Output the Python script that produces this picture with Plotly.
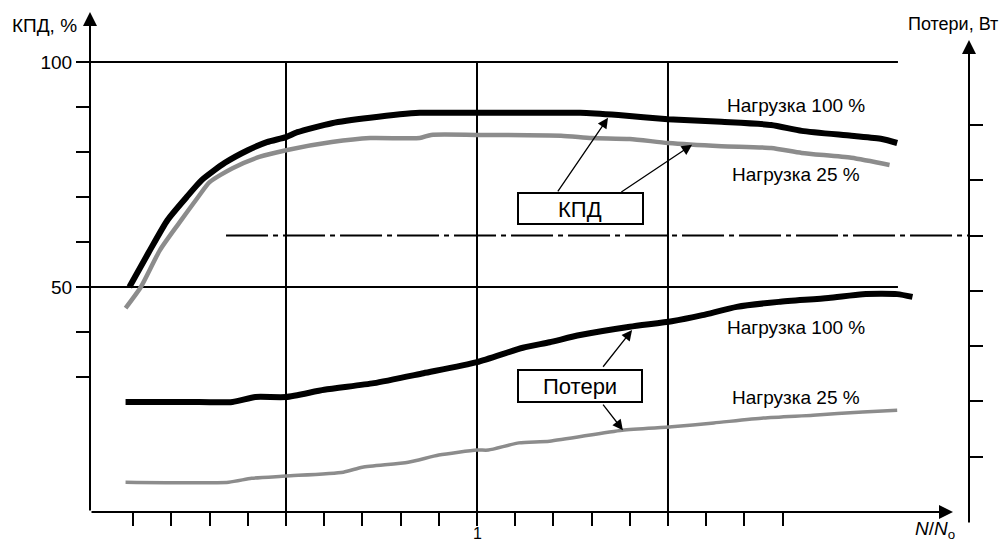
import plotly.graph_objects as go

# ---------------- data ----------------
# x: N/N0 ; efficiency in % (left axis) ; losses in arbitrary W units (right axis)
x_eff_100 = [0.09, 0.14, 0.19, 0.24, 0.28, 0.34, 0.40, 0.45, 0.50, 0.53, 0.62, 0.72,
             0.85, 1.00, 1.27, 1.37, 1.50, 1.64, 1.77, 1.85, 1.98, 2.06, 2.10]
eff_100 = [50.0, 57.6, 64.9, 70.0, 73.8, 77.6, 80.4, 82.2, 83.3, 84.4, 86.4, 87.6,
           88.7, 88.7, 88.7, 88.2, 87.3, 86.7, 86.0, 84.7, 83.6, 82.9, 82.0]

x_eff_25 = [0.08, 0.12, 0.17, 0.22, 0.27, 0.30, 0.36, 0.43, 0.50, 0.62, 0.72, 0.85,
            0.88, 1.00, 1.22, 1.30, 1.40, 1.50, 1.64, 1.77, 1.85, 1.98, 2.08]
eff_25 = [45.3, 50.0, 58.2, 64.2, 70.0, 73.3, 76.4, 78.9, 80.4, 82.2, 83.1, 83.1,
          83.8, 83.8, 83.6, 83.1, 82.9, 82.0, 81.3, 80.9, 79.8, 78.7, 77.1]

x_loss_100 = [0.08, 0.24, 0.36, 0.42, 0.50, 0.60, 0.73, 0.86, 1.00, 1.12, 1.19, 1.27,
              1.40, 1.51, 1.59, 1.68, 1.79, 1.92, 2.01, 2.10, 2.14]
loss_100 = [1.99, 1.99, 1.99, 2.08, 2.08, 2.21, 2.33, 2.51, 2.71, 2.97, 3.07, 3.20,
            3.35, 3.45, 3.56, 3.71, 3.80, 3.87, 3.94, 3.94, 3.89]

x_loss_25 = [0.08, 0.35, 0.41, 0.50, 0.65, 0.70, 0.82, 0.90, 1.00, 1.03, 1.11, 1.19,
             1.38, 1.51, 1.62, 1.75, 1.88, 2.01, 2.10]
loss_25 = [0.54, 0.54, 0.61, 0.65, 0.72, 0.81, 0.90, 1.03, 1.12, 1.12, 1.25, 1.28,
           1.48, 1.54, 1.61, 1.70, 1.75, 1.81, 1.84]

x_ticks = [round(0.1 * i, 1) for i in range(1, 19)]
x_labelled = 1.0
y_ticks = [30, 40, 50, 60, 70, 80, 90, 100]
y_ticklabels = ["50" if v == 50 else ("100" if v == 100 else "") for v in y_ticks]
y2_ticks = [1, 2, 3, 4, 5, 6, 7]
grid_x = [0.5, 1.0, 1.5]
grid_y = [50, 100]
ref_loss_level = 5

label_100 = "Нагрузка 100 %"
label_25 = "Нагрузка 25 %"

# ---------------- layout geometry ----------------
# the page body has an 8px margin, so the figure is drawn 8px in from the corner
OFF = 8
W, H = 1008 - OFF, 544 - OFF
PL, PT, PR, PB = 90, 12, 969, 512          # plot area in screenshot pixels
L, T = PL - OFF, PT - OFF
pw, ph = PR - PL, PB - PT
R, B = W - L - pw, H - T - ph
X_RANGE = [-0.0131, 2.288]
Y_RANGE = [0, 111.11]
Y2_RANGE = [0, 9.042]
FONT = "Liberation Sans, Arial, Helvetica, sans-serif"
GRAY = "#8c8c8c"


def px(xp):
    return (xp - PL) / pw


def py(yp):
    return (PB - yp) / ph


fig = go.Figure()
line_shape = dict(shape="spline", smoothing=0.6)
fig.add_trace(go.Scatter(x=x_eff_100, y=eff_100, mode="lines",
                         line=dict(color="black", width=6, **line_shape), yaxis="y"))
fig.add_trace(go.Scatter(x=x_eff_25, y=eff_25, mode="lines",
                         line=dict(color=GRAY, width=4.5, **line_shape), yaxis="y"))
fig.add_trace(go.Scatter(x=x_loss_100, y=loss_100, mode="lines",
                         line=dict(color="black", width=6, **line_shape), yaxis="y2"))
fig.add_trace(go.Scatter(x=x_loss_25, y=loss_25, mode="lines",
                         line=dict(color=GRAY, width=3.5, **line_shape), yaxis="y2"))

shapes = []
for gy in grid_y:
    shapes.append(dict(type="line", xref="x", yref="y", x0=X_RANGE[0], x1=2.102,
                       y0=gy, y1=gy, line=dict(color="black", width=2), layer="below"))
for gx in grid_x:
    shapes.append(dict(type="line", xref="x", yref="y", x0=gx, x1=gx,
                       y0=0, y1=100, line=dict(color="black", width=2), layer="below"))
# dash-dot reference line on loss axis
shapes.append(dict(type="line", xref="x", yref="y2", x0=0.343, x1=X_RANGE[1],
                   y0=ref_loss_level, y1=ref_loss_level,
                   line=dict(color="black", width=2, dash="42px,5px,5px,5px")))
# label boxes
shapes.append(dict(type="rect", xref="paper", yref="paper", x0=px(518), x1=px(643),
                   y0=py(224), y1=py(193), line=dict(color="black", width=2),
                   fillcolor="white"))
shapes.append(dict(type="rect", xref="paper", yref="paper", x0=px(518), x1=px(642),
                   y0=py(402), y1=py(370), line=dict(color="black", width=2),
                   fillcolor="white"))

ann = []
# axis arrows (drawn as the axis lines)
ann.append(dict(xref="paper", yref="paper", x=0, y=1, ax=0, ay=PB - PT,
                text="", showarrow=True, arrowhead=2, arrowsize=1.4,
                arrowwidth=2, arrowcolor="black", standoff=0))
ann.append(dict(xref="paper", yref="paper", x=px(953), y=0, ax=-(953 - PL), ay=0,
                text="", showarrow=True, arrowhead=2, arrowsize=1.4,
                arrowwidth=2, arrowcolor="black", standoff=0))
ann.append(dict(xref="paper", yref="paper", x=1, y=py(40), ax=0, ay=524 - 40,
                text="", showarrow=True, arrowhead=2, arrowsize=1.4,
                arrowwidth=2, arrowcolor="black", standoff=0))


# pointer arrows from the boxes to the curves
def pointer(x, y, ax, ay, yref):
    return dict(xref="x", yref=yref, axref="x", ayref=yref, x=x, y=y, ax=ax, ay=ay,
                text="", showarrow=True, arrowhead=2, arrowsize=1.6, arrowwidth=1.3,
                arrowcolor="black", standoff=0)


ann.append(pointer(1.343, 87.6, 1.209, 70.9, "y"))
ann.append(pointer(1.563, 81.6, 1.374, 70.9, "y"))
ann.append(pointer(1.406, 3.29, 1.327, 2.60, "y2"))
ann.append(pointer(1.382, 1.48, 1.327, 1.97, "y2"))


def text(t, xp, yp, size=19, xanchor="center"):
    return dict(xref="paper", yref="paper", x=px(xp), y=py(yp), text=t,
                showarrow=False, xanchor=xanchor, yanchor="middle",
                font=dict(family=FONT, size=size, color="black"))


ann.append(text("КПД", 580, 209, 22))
ann.append(text("Потери", 580, 386, 22))
ann.append(text(label_100, 796, 106))
ann.append(text(label_25, 796, 175))
ann.append(text(label_100, 796, 327))
ann.append(text(label_25, 796, 397))
ann.append(text("КПД, %", 79, 25, 19, "right"))
ann.append(text("Потери, Вт", 1000, 24, 18, "right"))
ann.append(text("<i>N</i>/<i>N</i><sub>o</sub>", 957, 530, 19, "right"))
# the single x tick label "1", placed just under its tick
ann.append(dict(xref="x", yref="paper", x=x_labelled, y=py(533), text="1",
                showarrow=False, xanchor="center", yanchor="middle", borderpad=0,
                font=dict(family=FONT, size=16, color="black")))

common_axis = dict(showgrid=False, zeroline=False, showline=False, automargin=False,
                   ticks="outside", ticklen=13, tickwidth=2, tickcolor="black",
                   fixedrange=True, tickmode="array")

fig.update_layout(
    width=W, height=H,
    margin=dict(l=L, r=R, t=T, b=B, pad=0, autoexpand=False),
    paper_bgcolor="white", plot_bgcolor="white",
    showlegend=False,
    font=dict(family=FONT, size=19, color="black"),
    xaxis=dict(range=X_RANGE, tickvals=x_ticks, showticklabels=False, **common_axis),
    yaxis=dict(range=Y_RANGE, tickvals=y_ticks, ticktext=y_ticklabels,
               tickfont=dict(size=19), **common_axis),
    yaxis2=dict(range=Y2_RANGE, overlaying="y", side="right", tickvals=y2_ticks,
                showticklabels=False, **common_axis),
    shapes=shapes,
    annotations=ann,
)

fig.write_html("out.html")
